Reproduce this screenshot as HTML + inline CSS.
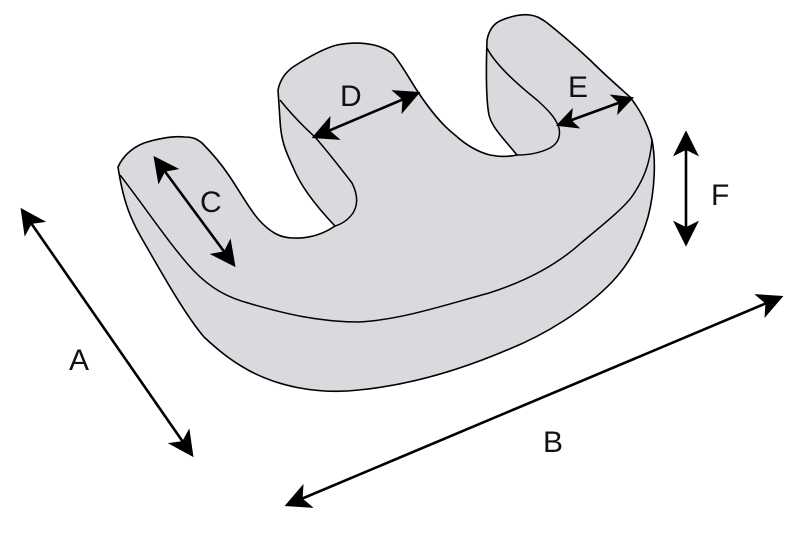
<!DOCTYPE html>
<html><head><meta charset="utf-8"><style>
html,body{margin:0;padding:0;background:#fff;}
svg{display:block;}
text{font-family:"Liberation Sans","DejaVu Sans",sans-serif;font-size:30px;fill:#111;}
</style></head><body>
<svg width="800" height="539" viewBox="0 0 800 539" xmlns="http://www.w3.org/2000/svg">
<defs>
<marker id="ahb" viewBox="0 0 10 10" refX="9" refY="5" markerWidth="26" markerHeight="26" markerUnits="userSpaceOnUse" orient="auto-start-reverse">
<path d="M0,0 L10,5 L0,10 L2.5,5 Z" fill="#000"/>
</marker>
<marker id="ahs" viewBox="0 0 10 10" refX="9" refY="5" markerWidth="22" markerHeight="22" markerUnits="userSpaceOnUse" orient="auto-start-reverse">
<path d="M0,0 L10,5 L0,10 L2.5,5 Z" fill="#000"/>
</marker>
</defs>
<!-- body silhouette -->
<path d="M118,167 C124,154 134,147 144,143 C160,138 175,136 185,137 C193,137 197,139 202,143
 C212,153 222,165 230,177 C242,195 250,210 259,220 C270,232 280,238 293,238 C310,239 325,233 335,226
 C315,205 300,185 293,167 C285,150 281,140 280,120 L278,90
 C280,80 286,72 293,67 C310,56 325,48 337,45 C352,42 365,43 374,45 C382,47 388,50 393,54
 C402,65 410,80 418,92 C430,110 442,125 455,135 C466,145 478,152 490,155 C500,157 508,157 517,155
 C505,140 492,128 489,115 C486,100 486,70 487,40
 C489,30 494,23 502,20 C512,16 522,14 530,15 C537,16 540,18 546,22 C560,33 575,46 590,60
 C605,75 620,88 630,97 C640,110 648,125 652,140 C656,160 655,190 648,217
 C640,245 628,265 612,282 C585,310 545,335 507,350 C460,370 410,385 359,390
 C315,395 275,385 248,370 C230,360 218,350 204,337 C185,315 160,270 141,237
 C130,218 123,200 118,167 Z" fill="#d9dadd" stroke="#000" stroke-width="1.6" stroke-linejoin="round"/>
<!-- top face front edge -->
<path d="M120,175 C145,207 170,245 193,270 C212,290 230,298 248,303 C285,314 320,322 359,322 C400,320 445,305 489,293 C530,280 560,262 581,243 C605,223 625,207 633,195 C643,180 650,165 652,140" fill="none" stroke="#000" stroke-width="1.5"/>
<!-- D prong inner edge -->
<path d="M280,100 C292,115 305,128 315,137 C328,152 342,170 352,183 C358,195 358,205 353,213 C348,220 342,224 335,226" fill="none" stroke="#000" stroke-width="1.5"/>
<!-- E prong inner edge -->
<path d="M487,48 C494,62 512,80 537,100 C548,110 556,118 559,128 C561,138 557,144 550,148 C540,153 530,155 517,155" fill="none" stroke="#000" stroke-width="1.5"/>
<!-- arrows -->
<g stroke="#000" stroke-width="2.6" fill="none">
<line x1="22" y1="210" x2="192" y2="455" marker-start="url(#ahb)" marker-end="url(#ahb)"/>
<line x1="287" y1="505" x2="781" y2="297" marker-start="url(#ahb)" marker-end="url(#ahb)"/>
<line x1="155" y1="158" x2="234" y2="265" marker-start="url(#ahb)" marker-end="url(#ahb)"/>
<line x1="314" y1="137" x2="418" y2="93" marker-start="url(#ahb)" marker-end="url(#ahb)"/>
<line x1="558" y1="125" x2="632" y2="98" marker-start="url(#ahs)" marker-end="url(#ahs)"/>
<line x1="686" y1="133" x2="686" y2="244" marker-start="url(#ahb)" marker-end="url(#ahb)"/>
</g>
<text x="69" y="370">A</text>
<text x="543" y="452">B</text>
<text x="200" y="212">C</text>
<text x="340" y="106">D</text>
<text x="568" y="97">E</text>
<text x="711" y="205">F</text>
</svg>
</body></html>
